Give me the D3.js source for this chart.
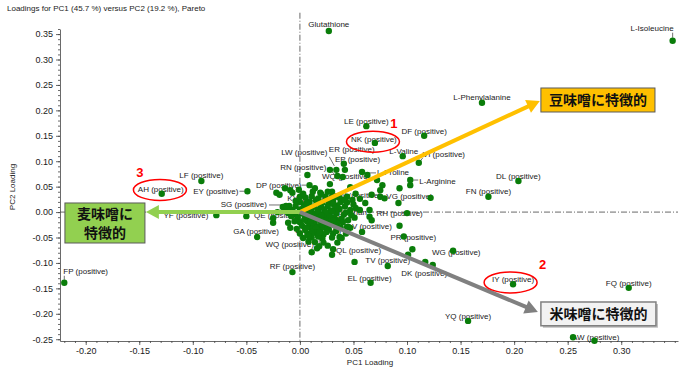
<!DOCTYPE html>
<html><head><meta charset="utf-8">
<script src="https://cdn.jsdelivr.net/npm/d3@7"></script>
<style>
body{margin:0;background:#fff}
svg{display:block}
text{font-family:"Liberation Sans",Arial,sans-serif}
.cjk{font-family:"Noto Sans CJK JP",sans-serif}
</style>
</head><body>
<svg id="c" width="700" height="370"></svg>
<script>
// ---------------- data ----------------
const chartTitle = "Loadings for PC1 (45.7 %) versus PC2 (19.2 %), Pareto";
const xTicks = [-0.20,-0.15,-0.10,-0.05,0.00,0.05,0.10,0.15,0.20,0.25,0.30];
const yTicks = [-0.25,-0.20,-0.15,-0.10,-0.05,0.00,0.05,0.10,0.15,0.20,0.25,0.30,0.35];

const labelNames = ["Glutathione","L-Isoleucine","L-Phenylalanine","LE (positive)","NK (positive)","DF (positive)",
 "L-Valine","VI (positive)","L-Proline","L-Arginine","DL (positive)","FN (positive)","VG (positive)",
 "ER (positive)","EP (positive)","LW (positive)","RN (positive)","WQ (positive)","DP (positive)","KY (positive)",
 "TW (positive)","SG (positive)","YF (positive)","QE (positive)","GA (positive)","WQ (positive)","LW (positive)",
 "L-Tryptophan","DV (positive)","RH (positive)","PR (positive)","QL (positive)","TV (positive)","DK (positive)",
 "WG (positive)","EL (positive)","IY (positive)","FQ (positive)","YQ (positive)","AW (positive)","RF (positive)",
 "FP (positive)","EY (positive)","LF (positive)","AH (positive)"];
const labelPC1 = [0.027,0.348,0.170,0.062,0.070,0.116,0.096,0.111,0.058,0.103,0.204,0.176,0.122,
 0.041,0.042,0.034,0.035,0.028,0.009,0.006,0.042,-0.013,-0.078,0.005,-0.040,0.011,0.018,
 0.009,0.045,0.093,0.105,0.031,0.082,0.117,0.143,0.066,0.199,0.307,0.157,0.255,-0.007,
 -0.220,-0.049,-0.092,-0.129];
const labelPC2 = [0.356,0.337,0.215,0.169,0.136,0.150,0.110,0.097,0.079,0.063,0.061,0.030,0.028,
 0.095,0.083,0.083,0.071,0.055,0.053,0.018,0.024,0.012,-0.006,-0.008,-0.049,-0.079,-0.067,
 0.000,-0.029,-0.027,-0.073,-0.073,-0.106,-0.098,-0.076,-0.139,-0.142,-0.149,-0.214,-0.246,-0.118,
 -0.139,0.041,0.061,0.036];

// unlabeled loadings (PC1, PC2)
const otherLoadings = [
 [0.275,-0.253],[0.103,0.053],[0.124,-0.104],[0.101,-0.084],[0.051,-0.098],[0.077,0.053],[0.075,0.030],
 [-0.050,-0.008],[0.075,0.043],[0.092,0.018],[0.072,0.063],[0.079,0.027],[0.093,0.047],[0.100,-0.002],
 [0.097,-0.048],[0.065,-0.009],
 [0.007,0.073],[0.028,0.083],[0.040,0.069],[0.047,0.049],[0.063,0.073],[-0.022,0.038],[-0.014,0.047],
 [-0.007,0.038],[0.014,0.047],[0.019,0.038],[0.030,0.040],[0.035,0.030],[0.040,0.024],[0.049,0.024],
 [0.056,0.004],[0.061,0.018],[0.067,0.034],[-0.016,0.010],[-0.011,-0.002],[0.047,-0.031],[0.058,-0.039],
 [0.039,-0.051],[0.014,-0.059],[0.016,-0.071],[0.030,-0.084],[-0.011,-0.021],[-0.009,-0.031],[-0.025,-0.012],
 [0.065,0.004],[0.067,-0.016],[0.035,-0.016],[0.044,-0.029],[0.037,-0.049],[-0.019,0.034],[-0.009,0.043],
 [-0.025,-0.021],[-0.021,0.000],
 [0.005,0.029],[0.017,0.027],[0.024,0.030],[0.037,0.028],[0.011,0.031],
 [0.000,0.020],[0.009,0.021],[0.021,0.019],[0.031,0.022],[0.044,0.019],[0.015,0.023],[0.027,0.018],
 [-0.004,0.012],[0.004,0.013],[0.013,0.011],[0.019,0.014],[0.026,0.012],[0.035,0.013],[0.042,0.011],[0.008,0.016],[0.031,0.016],
 [-0.007,0.004],[0.000,0.005],[0.007,0.003],[0.011,0.006],[0.017,0.004],[0.023,0.005],[0.029,0.003],[0.037,0.006],[0.047,0.004],[0.003,0.008],[0.020,0.009],[0.033,0.008],
 [-0.004,-0.004],[0.002,-0.003],[0.008,-0.005],[0.014,-0.003],[0.021,-0.004],[0.027,-0.006],[0.034,-0.003],[0.041,-0.005],[0.005,0.000],[0.017,0.000],[0.030,0.001],[0.024,-0.001],
 [-0.002,-0.011],[0.005,-0.010],[0.010,-0.012],[0.017,-0.010],[0.024,-0.012],[0.032,-0.011],[0.039,-0.013],[0.051,-0.011],[0.013,-0.008],[0.020,-0.007],[0.028,-0.009],
 [0.000,-0.020],[0.007,-0.019],[0.013,-0.021],[0.020,-0.018],[0.028,-0.020],[0.035,-0.022],[0.017,-0.015],[0.024,-0.016],[0.004,-0.015],
 [0.002,-0.027],[0.009,-0.026],[0.017,-0.028],[0.024,-0.025],[0.033,-0.027],[0.013,-0.023],[0.029,-0.024],
 [0.005,-0.035],[0.011,-0.033],[0.019,-0.036],[0.027,-0.034],[0.015,-0.031],[0.022,-0.030],
 [0.007,-0.043],[0.015,-0.041],[0.022,-0.044],[0.031,-0.042],[0.011,-0.039],[0.025,-0.039],
 [0.003,-0.051],[0.011,-0.050],[0.021,-0.052],
 [0.000,0.030],[0.030,0.030],[0.044,0.030],[-0.004,0.022],[0.038,0.020],[0.050,0.015],[-0.010,0.012],
 [0.052,0.008],[-0.012,0.005],[0.043,-0.001],[0.048,-0.006],[-0.008,-0.008],[0.045,-0.016],[0.040,-0.020],
 [-0.005,-0.018],[0.038,-0.030],[-0.003,-0.033],[0.034,-0.037],[0.000,-0.042],[0.030,-0.050],[0.017,-0.048],
 [0.008,-0.058],[0.022,-0.060],[0.026,-0.066],[0.020,0.035],[0.026,0.040],[0.003,0.036],[0.052,0.036],
 [0.056,0.026],[0.012,0.040],[-0.001,0.044],[0.010,-0.017],[0.031,-0.016],[0.021,-0.024],[0.006,-0.031],
 [0.026,-0.030],[0.018,-0.040],[0.008,-0.047],[0.035,-0.060],[0.043,-0.042]
];

// annotations (data coordinates)
const arrowTips = [[0.224,0.2184],[-0.1438,0.0],[0.2222,-0.1964]];
const boxTexts = [["豆味噌に特徴的"],["麦味噌に","特徴的"],["米味噌に特徴的"]];
const boxExtents = [[0.225,0.3315,0.244,0.1968],[-0.2194,-0.1447,0.0179,-0.0608],[0.225,0.3324,-0.1768,-0.2235]];
const circleCenters = [[0.0682,0.1384],[0.1967,-0.1384],[-0.1307,0.0435]];
const circleNumbers = ["1","2","3"];

// ---------------- layout / style ----------------
const labelLayout = [
 [0,-4,"middle"],[1,-10,"end",[0,-3,0,-8]],[0,-3,"middle"],[0,-2,"middle"],[-1,-1,"middle"],[0,-1.5,"middle"],
 [1,-2,"middle"],[4,-6,"start",[1,-1,4,-5]],[15,3.5,"start",[3,1,14,1]],[9,3.5,"start",[3,0,8,0]],[0,-2.5,"middle"],[0,-3,"middle"],[2,1,"end"],
 [-15,-12,"start"],[-10,-8,"start"],[-9,-15,"end",[-2,-4,-7,-13]],[-11,-6,"end",[-3,-2,-10,-8]],[-8,-5,"start"],[-8,2.5,"end",[-3,0,-8,0]],[-19,-2,"start"],
 [-11,-1.5,"start"],[-19,1.5,"end",[-4,-1,-17,-1]],[-8,2.5,"end"],[-5,1.5,"end"],[-1,-3,"middle"],[-22,-5,"middle"],[-24,-13,"start",[0,-3,0,-11]],
 [10,3,"start",[3,0,9,0]],[-2,2.5,"start"],[-23,-10,"start"],[-22,-9,"start"],[3,4,"start"],[0,-3,"middle"],[-1,14.5,"middle"],
 [-21,4.5,"start"],[-1,-1.5,"middle"],[0,-2,"middle"],[0,-1.5,"middle"],[0,-2,"middle"],[-1,3,"start"],[0,-3,"middle"],
 [-1,-9,"start",[0,-3,0,-7]],[-9,3,"end",[-3,0,-8,0]],[0,-3,"middle"],[-1,-2,"middle"]
];
const arrowColors = ["#FFC000","#92D050","#808080"];
const boxFills = ["#FFC000","#92D050","#F2F2F2"];
const numberOffsets = [[21,-13.5],[32,-13],[-20,-12.5]];

const svg = d3.select("#c");
const x = d3.scaleLinear().domain([-0.224, 0.353]).range([60, 678]);
const y = d3.scaleLinear().domain([-0.2535, 0.36]).range([341, 29]);
const yTopDash = 0.392;

// title
svg.append("text").attr("x",7).attr("y",11).attr("font-size",8).attr("fill","#222").text(chartTitle);

// zero lines
svg.append("line").attr("x1",x(0)).attr("x2",x(0)).attr("y1",y(yTopDash)).attr("y2",y.range()[0])
  .attr("stroke","#444").attr("stroke-width",0.8).attr("stroke-dasharray","6,2,1,2");
svg.append("line").attr("x1",x.range()[0]).attr("x2",x.range()[1]).attr("y1",y(0)).attr("y2",y(0))
  .attr("stroke","#444").attr("stroke-width",0.8).attr("stroke-dasharray","6,2,1,2");

// axes
const fmt = d => d.toFixed(2);
const xMinor = d3.range(-22,36).map(v=>v/100);
const yMinor = d3.range(-25,37).map(v=>v/100);
const gx = svg.append("g").attr("transform",`translate(0,${y.range()[0]})`);
gx.call(d3.axisBottom(x).tickValues(xMinor).tickSize(2).tickSizeOuter(0).tickFormat(""));
const gx2 = svg.append("g").attr("transform",`translate(0,${y.range()[0]})`);
gx2.call(d3.axisBottom(x).tickValues(xTicks).tickSize(4).tickSizeOuter(0).tickFormat(fmt).tickPadding(3));
gx2.select(".domain").remove();
const gy = svg.append("g").attr("transform",`translate(${x.range()[0]},0)`);
gy.call(d3.axisLeft(y).tickValues(yMinor).tickSize(2).tickSizeOuter(0).tickFormat(""));
const gy2 = svg.append("g").attr("transform",`translate(${x.range()[0]},0)`);
gy2.call(d3.axisLeft(y).tickValues(yTicks).tickSize(4).tickSizeOuter(0).tickFormat(fmt).tickPadding(3));
gy2.select(".domain").remove();
svg.selectAll(".domain, .tick line").attr("stroke","#444").attr("stroke-width",0.8);
svg.selectAll(".tick text").attr("font-size",9).attr("fill","#1a1a1a").attr("font-family","Liberation Sans, Arial, sans-serif");

// axis titles
svg.append("text").attr("x",370).attr("y",365).attr("text-anchor","middle").attr("font-size",8).attr("fill","#222").text("PC1 Loading");
svg.append("text").attr("transform","translate(15,187) rotate(-90)").attr("text-anchor","middle").attr("font-size",8).attr("fill","#222").text("PC2 Loading");

// labels
const labels = labelNames.map((n,i)=>({name:n, px:x(labelPC1[i]), py:y(labelPC2[i]), lay:labelLayout[i]}));
svg.append("g").selectAll("text").data(labels).join("text")
  .attr("x",d=>d.px+d.lay[0]).attr("y",d=>d.py+d.lay[1]).attr("text-anchor",d=>d.lay[2])
  .attr("font-size",8).attr("fill","#1a1a1a").text(d=>d.name);
svg.append("g").selectAll("line").data(labels.filter(d=>d.lay[3])).join("line")
  .attr("x1",d=>d.px+d.lay[3][0]).attr("y1",d=>d.py+d.lay[3][1])
  .attr("x2",d=>d.px+d.lay[3][2]).attr("y2",d=>d.py+d.lay[3][3])
  .attr("stroke","#333").attr("stroke-width",0.7);

// points
const pts = otherLoadings.map(d=>({px:x(d[0]),py:y(d[1])})).concat(labels);
svg.append("g").selectAll("circle").data(pts).join("circle")
  .attr("cx",d=>d.px).attr("cy",d=>d.py).attr("r",3.2).attr("fill","#0a7d0a");

// arrows
arrowTips.forEach((t,i)=>{
  const x0=x(0), y0=y(0), tx=x(t[0]), ty=y(t[1]);
  const dx=tx-x0, dy=ty-y0, L=Math.hypot(dx,dy), ux=dx/L, uy=dy/L;
  const head=13, half=7;
  const bx=tx-ux*head, by=ty-uy*head;
  svg.append("line").attr("x1",x0).attr("y1",y0).attr("x2",bx+ux*2).attr("y2",by+uy*2)
    .attr("stroke",arrowColors[i]).attr("stroke-width",4);
  svg.append("path").attr("d",`M${tx},${ty}L${bx-uy*half},${by+ux*half}L${bx+uy*half},${by-ux*half}Z`)
    .attr("fill",arrowColors[i]);
});

// boxes
boxExtents.forEach((b,i)=>{
  const x1=x(b[0]), x2=x(b[1]), y1=y(b[2]), y2=y(b[3]);
  if(i===2){
    svg.append("rect").attr("x",x1+2).attr("y",y1+2).attr("width",x2-x1).attr("height",y2-y1).attr("fill","#bdbdbd");
  }
  svg.append("rect").attr("x",x1).attr("y",y1).attr("width",x2-x1).attr("height",y2-y1)
    .attr("fill",boxFills[i]).attr("stroke",i===2?"#808080":"#5a5a5a").attr("stroke-width",i===2?1.5:1);
  const lines = boxTexts[i], lh=19.5;
  const cy=(y1+y2)/2 - (lines.length-1)*lh/2;
  lines.forEach((s,k)=>{
    svg.append("text").attr("class","cjk").attr("x",(x1+x2)/2).attr("y",cy+k*lh+5.5)
      .attr("text-anchor","middle").attr("font-size",14).attr("font-weight","bold").attr("fill","#111").text(s);
  });
});

// red ellipses and numbers
circleCenters.forEach((c,i)=>{
  const cx=x(c[0]), cy=y(c[1]);
  svg.append("ellipse").attr("cx",cx).attr("cy",cy).attr("rx",26.5).attr("ry",10.5)
    .attr("fill","none").attr("stroke","#FF0000").attr("stroke-width",1.5);
  svg.append("text").attr("x",cx+numberOffsets[i][0]).attr("y",cy+numberOffsets[i][1]).attr("text-anchor","middle")
    .attr("font-size",13).attr("font-weight","bold").attr("fill","#FF0000").text(circleNumbers[i]);
});
</script>
</body></html>
